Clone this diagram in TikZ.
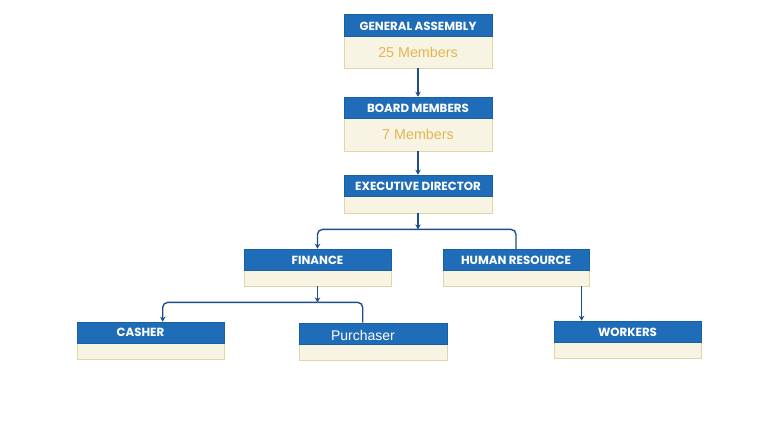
\documentclass[tikz,border=0pt]{standalone}
\usepackage{fontspec}
\setmainfont{Liberation Sans}
\newfontfamily\headfont{Poppins}
\usetikzlibrary{fit,arrows.meta,calc}
\definecolor{hblue}{HTML}{1F6DB8}
\definecolor{hborder}{HTML}{1A5FA0}
\definecolor{bodyfill}{HTML}{F8F4E4}
\definecolor{bodyline}{HTML}{E4D5A8}
\definecolor{gold}{HTML}{E3B552}
\definecolor{connc}{HTML}{1E4E8A}
\tikzset{
  bodybox/.style={draw=bodyline, fill=bodyfill, line width=0.8pt, inner sep=0pt},
  headbox/.style={draw=hborder, fill=hblue, line width=0.6pt, inner sep=0pt},
  headtext/.style={text=white, font=\headfont\bfseries\fontsize{11.8}{13}\selectfont, inner sep=0pt},
  plaintext/.style={text=white, font=\fontsize{14}{16}\selectfont, inner sep=0pt},
  membertext/.style={text=gold, font=\fontsize{14.3}{16}\selectfont, inner sep=0pt},
  conn/.style={draw=connc, line width=1.4pt, -{Stealth[length=5pt,width=5.5pt]}},
  connline/.style={draw=connc, line width=1.4pt},
}
% #1 name, #2 left, #3 top, #4 right, #5 header bottom, #6 bottom
\newcommand\orgbox[6]{%
  \node[bodybox, fit={(#2,#3) (#4,#6)}] (#1) {};
  \node[headbox, fit={(#2,#3) (#4,#5)}] (#1-h) {};
}
\begin{document}
\begin{tikzpicture}[x=1pt,y=-1pt]
\useasboundingbox[fill=white] (0,0) rectangle (768,426);
\orgbox{ga}{344}{14}{492}{36}{68}
\node[headtext] (ga-t) at ($(ga-h)+(0,1)$) {GENERAL ASSEMBLY};
\node[membertext] (ga-m) at ($(ga-h.south)!0.5!(ga.south)$) {25 Members};
\orgbox{bm}{344}{97}{492}{118}{151}
\node[headtext] (bm-t) at ($(bm-h)+(0,1)$) {BOARD MEMBERS};
\node[membertext] (bm-m) at ($(bm-h.south)!0.5!(bm.south)$) {7 Members};
\orgbox{ed}{344}{175}{492}{196}{213}
\node[headtext] (ed-t) at ($(ed-h)+(0,1)$) {EXECUTIVE DIRECTOR};
\orgbox{fin}{244}{249}{391}{270}{286}
\node[headtext] (fin-t) at ($(fin-h)+(0,1)$) {FINANCE};
\orgbox{hr}{443}{249}{589}{270}{286}
\node[headtext] (hr-t) at ($(hr-h)+(0,1)$) {HUMAN RESOURCE};
\orgbox{cas}{77}{322}{224}{343}{359}
\node[headtext] (cas-t) at ($(cas-h)+(-10,0)$) {CASHER};
\orgbox{pur}{299}{323}{447}{344}{360}
\node[plaintext] (pur-t) at ($(pur-h)+(-10,2)$) {Purchaser};
\orgbox{wk}{554}{321}{701}{342}{358}
\node[headtext] (wk-t) at ($(wk-h)+(0,1)$) {WORKERS};
% connectors
\draw[conn] (ga.south) -- (bm-h.north);
\draw[conn] (bm.south) -- (ed-h.north);
\coordinate (j1) at ($(ed.south)+(0,16)$);
\draw[conn] (ed.south) -- (j1);
\draw[conn, rounded corners=5pt] (j1) -| (fin-h.north);
\draw[connline, rounded corners=5pt] (j1) -| ($(hr-h.north)+(0,0.5)$);
\coordinate (j2) at ($(fin.south)+(0,16)$);
\draw[conn] (fin.south) -- (j2);
\coordinate (casin) at ($(cas-h.north west)+(86,0)$);
\coordinate (purin) at ($(pur-h.north west)+(64,0)$);
\draw[conn, rounded corners=5pt] (j2) -| (casin);
\draw[connline, rounded corners=5pt] (j2) -| (purin);
\coordinate (hrout) at ($(hr.south west)+(139,0)$);
\draw[conn] (hrout) -- (hrout |- wk-h.north);
\end{tikzpicture}
\end{document}
